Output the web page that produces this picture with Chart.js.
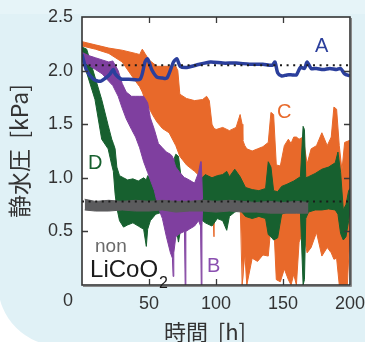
<!DOCTYPE html>
<html><head><meta charset="utf-8">
<script src="https://cdn.jsdelivr.net/npm/chart.js@4.4.0/dist/chart.umd.min.js"></script>
<style>html,body{margin:0;padding:0;background:#fff;overflow:hidden}canvas{display:block}</style>
</head><body>
<canvas id="c" width="365" height="342"></canvas>
<script>
// ---------- data ----------
const xTickValues = [0, 50, 100, 150, 200];
const yTickValues = [0.5, 1.0, 1.5, 2.0, 2.5];
const dottedLevels = [2.05, 0.78];
const xTitle = '時間  [h]';
const yTitle = '静水圧  [kPa]';

// A (blue) – single line
const timesA = [0,3.5,8.5,13.5,18.5,21,23.4,24.7,27,29.7,35,43.4,47,48.9,52,55.9,60,63.4,68.3,70.8,73.3,78.3,85,95.8,105,115,125,135,142,144,146,149,153,157,160,163,166,168,171,175,180,185,190,193,196,200];
const valuesA = [2.15,2.00,1.92,1.90,1.94,1.97,2.01,1.97,1.94,1.92,1.92,1.92,2.08,2.11,2.01,1.94,1.93,1.93,2.08,2.11,2.04,2.03,2.05,2.08,2.07,2.07,2.06,2.06,2.05,2.08,1.98,1.95,1.96,1.96,1.96,2.03,2.02,2.08,2.02,2.02,2.01,2.02,2.01,2.02,1.97,1.95];

// non LiCoO2 (gray) – noisy band: upper / lower envelope
const timesN = [2,10,20,30,40,50,60,70,80,90,100,110,120,130,140,150,160,169];
const highN = [0.80,0.78,0.79,0.78,0.79,0.78,0.79,0.78,0.78,0.79,0.78,0.79,0.78,0.77,0.78,0.77,0.78,0.77];
const lowN  = [0.70,0.69,0.69,0.70,0.69,0.69,0.70,0.68,0.69,0.69,0.68,0.69,0.68,0.68,0.67,0.67,0.67,0.67];

// B (purple)
const timesB = [0,5,10,15,20,23,27,30,33,37,40,43,46,49,51,54,57,60,63,66,67.5,68,68.5,70,73,76.5,77,77.5,80,84,87,88.5,89,89.5,90];
const highB = [2.17,2.14,2.12,2.10,2.08,2.09,2.00,1.88,1.80,1.76,1.76,1.76,1.76,1.70,1.56,1.45,1.32,1.28,1.24,1.22,1.20,1.18,1.16,1.10,1.05,1.00,1.00,1.00,0.98,0.95,1.05,1.15,1.15,1.15,0.80];
const lowB  = [2.10,2.05,2.01,1.97,1.90,1.86,1.76,1.65,1.55,1.45,1.38,1.28,1.15,1.05,0.98,0.88,0.72,0.62,0.45,0.30,0.25,0.08,0.30,0.45,0.48,0.50,0.0,0.50,0.52,0.55,0.60,0.55,0.0,0.55,0.70];

// D (green)
const timesD = [0,3.5,9.7,14.7,19.5,22.2,23.4,24.7,26,28,31,34,38,42,46,48,49,51,55,60,65,70,72,74,78,84,88,92,97,101,105,108,110,114,118,122,127,132,137,139,141,143,146,149,153,158,163,165,166,167,169,174,179,184,189,191,193,195,197,199,200];
const highD = [2.22,2.20,1.94,1.73,1.49,1.36,1.32,1.27,1.10,1.02,1.00,0.98,0.99,0.97,1.00,0.98,1.02,0.99,0.97,1.00,1.05,1.22,1.20,1.00,0.97,0.95,0.98,1.03,1.00,1.02,1.03,1.06,1.01,1.08,1.01,0.91,0.89,0.88,0.90,1.15,1.10,0.88,0.87,0.92,0.94,0.97,1.01,1.48,1.45,1.00,1.01,1.04,1.08,1.10,1.14,1.24,1.05,0.70,0.75,0.88,0.90];
const lowD  = [2.15,1.98,1.73,1.36,1.27,1.12,1.06,0.85,0.72,0.60,0.54,0.56,0.58,0.55,0.52,0.36,0.52,0.60,0.66,0.68,0.66,0.55,0.40,0.55,0.62,0.64,0.62,0.58,0.55,0.62,0.60,0.51,0.64,0.68,0.70,0.64,0.62,0.64,0.62,0.47,0.45,0.42,0.44,0.66,0.68,0.69,0.68,0.0,0.05,0.62,0.68,0.70,0.70,0.71,0.70,0.66,0.48,0.42,0.45,0.60,0.70];

// C (orange)
const timesC = [0,10,20,30,40,43,45,47,50,53,56,60,65,70,71.5,73,78,84,90,93,95,97,98.5,99,100,105,110,115,118,119.5,120,121.5,123,127,131,135,139,141,143,145,148,151,154,156,158,160,162,165,168,171,175,179,183,186,188,190,192,194,196,198,200];
const highC = [2.27,2.24,2.21,2.19,2.16,2.15,2.20,2.16,2.10,2.07,2.04,2.04,2.04,2.04,2.00,1.78,1.74,1.72,1.73,1.76,1.72,1.50,1.46,1.46,1.45,1.47,1.44,1.47,1.59,1.50,1.35,1.30,1.27,1.25,1.27,1.29,1.33,1.61,1.59,1.12,1.11,1.30,1.36,1.32,1.38,1.38,1.36,1.38,1.13,1.27,1.30,1.42,1.30,1.38,1.66,1.64,1.30,1.07,1.33,1.34,1.35];
const lowC  = [2.23,2.20,2.16,2.08,1.90,1.85,1.80,1.73,1.65,1.58,1.52,1.46,1.42,1.30,1.25,1.20,1.12,1.06,0.99,0.93,0.88,0.86,0.45,0.85,0.84,0.82,0.80,0.80,0.78,0.0,0.0,0.30,0.0,0.25,0.22,0.28,0.27,0.55,0.60,0.05,0.03,0.15,0.05,0.0,0.10,0.0,0.40,0.50,0.30,0.35,0.49,0.27,0.35,0.30,0.24,0.25,0.0,0.0,0.0,0.0,0.50];

// ---------- styling ----------
const COL = {A:'#2b3f9c', N:'#5b5b5d', B:'#7f3f9f', D:'#17602f', C:'#e8692a'};
const LATIN = '"Liberation Sans", Arial, sans-serif';
const CJK = '"Noto Sans CJK JP", "Liberation Sans", sans-serif';

function pts(ts, vs){ return ts.map((t,i)=>({x:t, y:vs[i]})); }
function band(ts, hi, lo, color, name){
  return [
    {label:name+' high', data:pts(ts,hi), borderColor:color, backgroundColor:color, borderWidth:1, pointRadius:0, fill:'+1', tension:0},
    {label:name+' low',  data:pts(ts,lo), borderColor:color, backgroundColor:color, borderWidth:1, pointRadius:0, fill:false, tension:0}
  ];
}
const datasets = [
  ...dottedLevels.map(v => ({label:'ref '+v, data:[{x:0,y:v},{x:200,y:v}], borderColor:'#1a1a1a', borderWidth:2, borderDash:[2,4.6], pointRadius:0, fill:false})),
  {label:'A', data:pts(timesA, valuesA), borderColor:COL.A, borderWidth:3.5, pointRadius:0, fill:false, tension:0.25, borderJoinStyle:'round'},
  ...band(timesN, highN, lowN, COL.N, 'non'),
  ...band(timesB, highB, lowB, COL.B, 'B'),
  ...band(timesD, highD, lowD, COL.D, 'D'),
  ...band(timesC, highC, lowC, COL.C, 'C')
];

const bgPlugin = {
  id:'bg',
  beforeDraw(chart){
    const ctx = chart.ctx, W = chart.width, H = chart.height, a = chart.chartArea;
    ctx.save();
    ctx.fillStyle = '#ffffff'; ctx.fillRect(0,0,W,H);
    const r = 62, L = -2, B = 346;
    ctx.fillStyle = '#e0f1f6';
    ctx.beginPath();
    ctx.moveTo(L, -2); ctx.lineTo(W+2, -2); ctx.lineTo(W+2, B); ctx.lineTo(L+r, B);
    ctx.arcTo(L, B, L, B-r, r); ctx.closePath(); ctx.fill();
    ctx.fillStyle = '#e6f4f8'; ctx.fillRect(0,0,W,14);
    ctx.fillStyle = '#ffffff'; ctx.fillRect(a.left, a.top, a.right-a.left, a.bottom-a.top);
    ctx.restore();
  }
};

const framePlugin = {
  id:'frame',
  afterDatasetsDraw(chart){
    const ctx = chart.ctx, a = chart.chartArea, xs = chart.scales.x, ys = chart.scales.y;
    ctx.save();
    ctx.strokeStyle = '#3a3a3a'; ctx.lineWidth = 1.3;
    xTickValues.slice(1,-1).forEach(v => {
      const p = Math.round(xs.getPixelForValue(v)) + 0.5;
      ctx.beginPath(); ctx.moveTo(p, a.bottom); ctx.lineTo(p, a.bottom-6);
      ctx.moveTo(p, a.top); ctx.lineTo(p, a.top+6); ctx.stroke();
    });
    yTickValues.slice(0,-1).forEach(v => {
      const p = Math.round(ys.getPixelForValue(v)) + 0.5;
      ctx.beginPath(); ctx.moveTo(a.left, p); ctx.lineTo(a.left+6, p);
      ctx.moveTo(a.right, p); ctx.lineTo(a.right-6, p); ctx.stroke();
    });
    ctx.lineWidth = 1.6; ctx.strokeStyle = '#333';
    ctx.strokeRect(a.left, a.top, a.right-a.left, a.bottom-a.top);
    ctx.lineWidth = 1; ctx.strokeStyle = '#8a8a8a';
    ctx.beginPath(); ctx.moveTo(a.right+1.5, a.top+1); ctx.lineTo(a.right+1.5, a.bottom+1.5); ctx.lineTo(a.left+1, a.bottom+1.5); ctx.stroke();

    // shared origin label
    ctx.fillStyle = '#333'; ctx.font = '18px ' + LATIN;
    ctx.textAlign = 'center'; ctx.textBaseline = 'middle';
    ctx.fillText('0', a.left - 14, 301);

    // x-axis title
    ctx.font = '22px ' + CJK;
    ctx.fillText(xTitle, 205, 332);

    // series labels
    const X = t => xs.getPixelForValue(t), Y = v => ys.getPixelForValue(v);
    ctx.textAlign = 'left'; ctx.textBaseline = 'alphabetic';
    ctx.font = '20px ' + LATIN;
    ctx.fillStyle = COL.A; ctx.fillText('A', X(173.9), Y(2.17));
    ctx.fillStyle = COL.C; ctx.fillText('C', X(145.5), Y(1.56));
    ctx.fillStyle = COL.D; ctx.fillText('D', X(4.5), Y(1.08));
    ctx.fillStyle = '#8a4fb0'; ctx.fillText('B', X(93.3), Y(0.12));
    ctx.font = '19px ' + LATIN;
    ctx.fillStyle = '#6a6a6a'; ctx.fillText('non', X(9.7), Y(0.31));
    ctx.font = '24px ' + LATIN; ctx.fillStyle = '#1a1a1a';
    const lx = X(6.0), ly = Y(0.075);
    ctx.fillText('LiCoO', lx, ly);
    const w = ctx.measureText('LiCoO').width;
    ctx.font = '16px ' + LATIN;
    ctx.fillText('2', lx + w + 1, ly + 11);
    ctx.restore();
  }
};

new Chart(document.getElementById('c'), {
  type:'line',
  data:{datasets},
  options:{
    responsive:false, animation:false, devicePixelRatio:1,
    layout:{padding:{top:17, right:15, left:0, bottom:0}},
    plugins:{legend:{display:false}, tooltip:{enabled:false}},
    scales:{
      x:{type:'linear', min:0, max:200,
        afterFit(s){ s.height = 57; s.paddingLeft = 0; s.paddingRight = 0; },
        grid:{display:false, drawTicks:false}, border:{display:false},
        afterBuildTicks(s){ s.ticks = xTickValues.map(v => ({value:v})); },
        ticks:{padding:8, color:'#333', maxRotation:0, autoSkip:false, font:{size:18, family:LATIN},
          callback:v => v === 0 ? '' : String(v)},
        title:{display:false}
      },
      y:{min:0, max:2.5,
        afterFit(s){ s.width = 82; s.paddingTop = 0; s.paddingBottom = 0; },
        grid:{display:false, drawTicks:false}, border:{display:false},
        afterBuildTicks(s){ s.ticks = yTickValues.map(v => ({value:v})); },
        ticks:{padding:9, color:'#333', font:{size:18, family:LATIN}, callback:v => v.toFixed(1)},
        title:{display:true, text:yTitle, color:'#333', font:{size:23, family:CJK, lineHeight:1}, padding:{top:8, bottom:0}}
      }
    }
  },
  plugins:[bgPlugin, framePlugin]
});
</script>
</body></html>
